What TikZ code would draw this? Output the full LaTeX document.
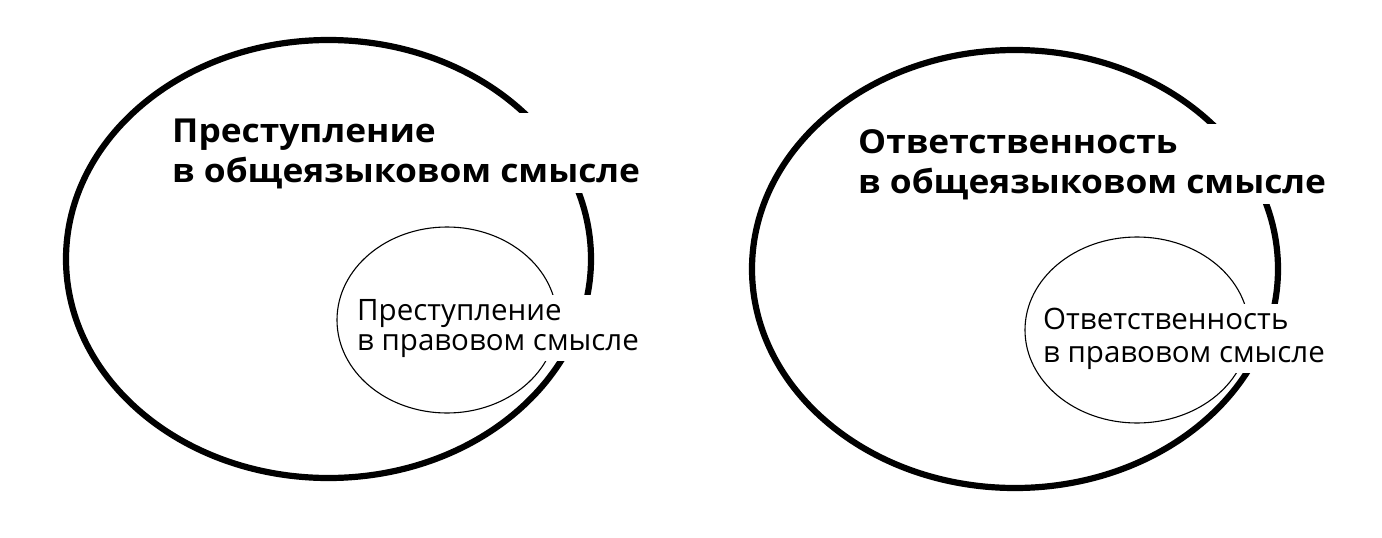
\documentclass[tikz,border=0pt]{standalone}
\usepackage{fontspec}
\setmainfont{Open Sans}
\newfontfamily\lblwide{Open Sans}[FakeStretch=1.07]
\begin{document}
\begin{tikzpicture}[x=1pt,y=-1pt,
  big/.style={line width=6.2pt},
  small/.style={line width=1.1pt},
  boldlbl/.style={anchor=base west,align=left,fill=white,inner sep=5pt,
    font=\lblwide\fontsize{33}{40}\selectfont\bfseries},
  thinlbl/.style={anchor=base west,align=left,fill=white,inner sep=4pt,
    font=\fontsize{29.5}{30}\selectfont}]
\useasboundingbox (0,0) rectangle (1382,538);
% left diagram
\draw[small] (447,320) ellipse [x radius=110, y radius=93];
\draw[big] (328.5,259) ellipse [x radius=262.5, y radius=219];
\node[boldlbl] (lbig) at (167,182) {Преступление\\в общеязыковом смысле};
\node[thinlbl] (lsmall) at (353,350) {Преступление\\в правовом смысле};
% right diagram
\draw[small] (1137,330) ellipse [x radius=112, y radius=93];
\draw[big] (1015,269) ellipse [x radius=263, y radius=219];
\node[boldlbl] (rbig) at (853,193) {Ответственность\\в общеязыковом смысле};
\node[thinlbl, font=\fontsize{29.5}{33}\selectfont] (rsmall) at (1039,362) {Ответственность\\в правовом смысле};
\end{tikzpicture}
\end{document}
